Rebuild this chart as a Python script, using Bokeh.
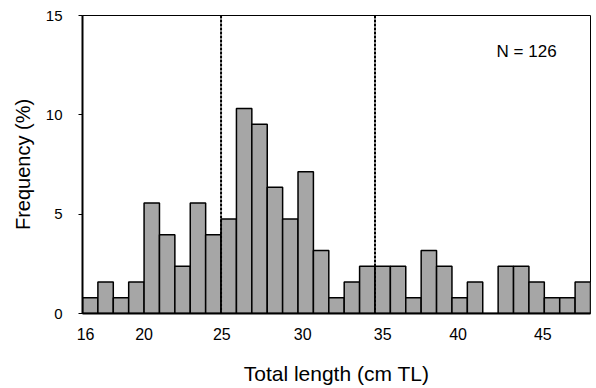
from bokeh.plotting import figure
from bokeh.models import Span, Label, FixedTicker, Range1d
from bokeh.embed import file_html
from bokeh.resources import INLINE

# Data: 1-cm total-length classes (left edges) and frequency (%)
bin_left = list(range(16, 49))
freq_pct = [0.79, 1.59, 0.79, 1.59, 5.56, 3.97, 2.38, 5.56, 3.97, 4.76,
            10.32, 9.52, 6.35, 4.76, 7.14, 3.17, 0.79, 1.59, 2.38, 2.38,
            2.38, 0.79, 3.17, 2.38, 0.79, 1.59, 0.0, 2.38, 2.38, 1.59,
            0.79, 0.79, 1.59]
bin_right = [b + 1 for b in bin_left]

# Tick labels as placed on the original x axis
x_tick_pos = [16.2, 20.0, 25.05, 30.3, 35.5, 40.4, 45.9]
x_tick_lbl = ["16", "20", "25", "30", "35", "40", "45"]
y_ticks = [0, 5, 10, 15]
split_lines = [25, 35]
n_text = "N = 126"

FONT = "Liberation Sans"

p = figure(width=592, height=388, output_backend="svg", toolbar_location=None,
           x_range=Range1d(16, 49), y_range=Range1d(0, 15),
           min_border_left=82, min_border_right=2, min_border_top=15,
           min_border_bottom=75)
p.grid.visible = False
p.outline_line_color = "black"
p.outline_line_width = 1
p.background_fill_color = "white"
p.border_fill_color = "white"

p.quad(left=bin_left, right=bin_right, bottom=0, top=freq_pct,
       fill_color="#a6a6a6", line_color="black", line_width=1.5)

for xv in split_lines:
    p.add_layout(Span(location=xv, dimension="height", line_color="black",
                      line_width=2, line_dash="3 1"))

p.add_layout(Label(x=42.9, y=13.2, text=n_text, text_font=FONT,
                   text_font_size="17px", text_baseline="middle",
                   text_align="left", text_color="black"))

# X axis
xa = p.xaxis[0]
xa.ticker = FixedTicker(ticks=x_tick_pos)
xa.major_label_overrides = {v: l for v, l in zip(x_tick_pos, x_tick_lbl)}
xa.major_tick_line_color = None
xa.minor_tick_line_color = None
xa.major_tick_out = 0
xa.major_tick_in = 0
xa.major_label_standoff = 14
xa.axis_line_width = 2
xa.axis_line_color = "black"
xa.major_label_text_font = FONT
xa.major_label_text_font_size = "16px"
xa.major_label_text_color = "black"
xa.axis_label = "Total length (cm TL)"
xa.axis_label_text_font = FONT
xa.axis_label_text_font_size = "21px"
xa.axis_label_text_font_style = "normal"
xa.axis_label_text_color = "black"
xa.axis_label_standoff = 19

# Y axis
ya = p.yaxis[0]
ya.ticker = FixedTicker(ticks=y_ticks)
ya.minor_tick_line_color = None
ya.major_tick_out = 4
ya.major_tick_in = 0
ya.major_tick_line_color = "black"
ya.major_label_standoff = 16
ya.axis_line_width = 2
ya.axis_line_color = "black"
ya.major_label_text_font = FONT
ya.major_label_text_font_size = "15px"
ya.major_label_text_color = "black"
ya.axis_label = "Frequency (%)"
ya.axis_label_text_font = FONT
ya.axis_label_text_font_size = "20px"
ya.axis_label_text_font_style = "normal"
ya.axis_label_text_color = "black"
ya.axis_label_standoff = 9

open("out.html", "w").write(file_html(p, INLINE))
